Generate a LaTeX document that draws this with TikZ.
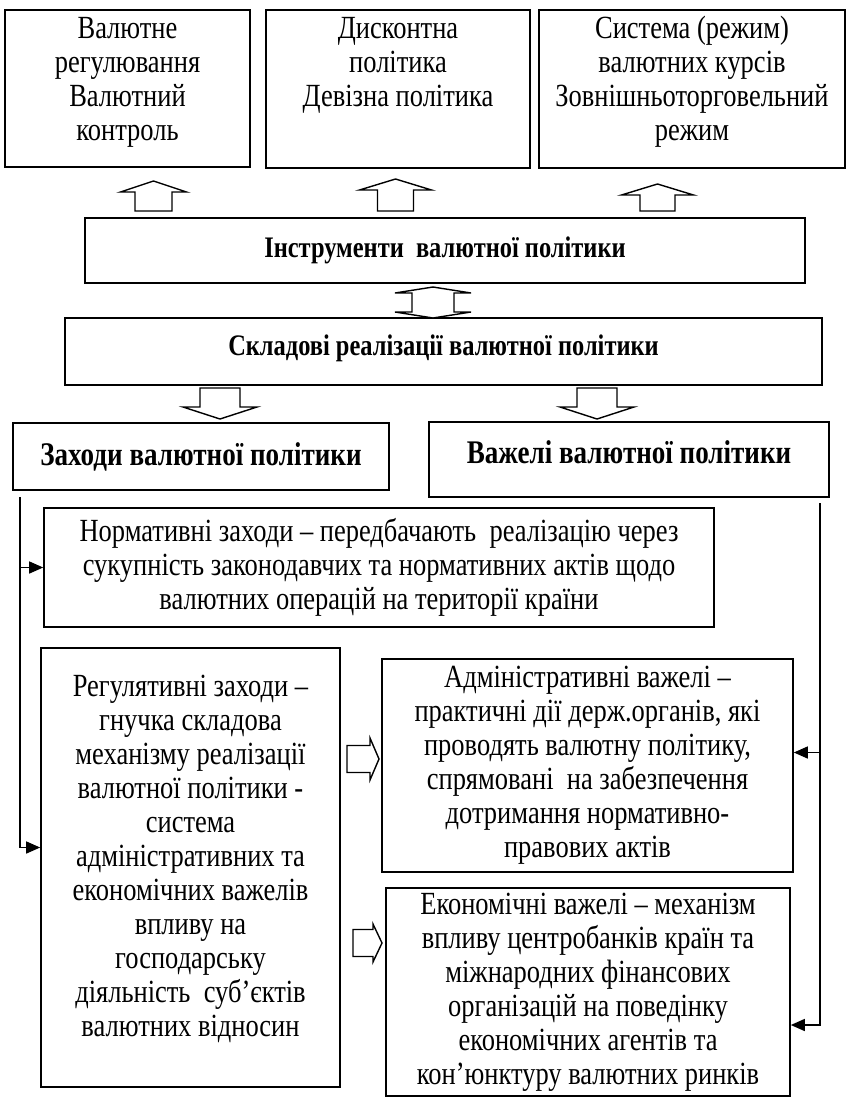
\documentclass[tikz,border=0pt]{standalone}
\usepackage{fontspec}
\setmainfont{Liberation Serif}[FakeStretch=0.82]
\usetikzlibrary{arrows.meta}

% text cell of fixed size: width, height, vertical position (t/c/b), text
\newcommand\cellbox[4]{\parbox[c][#2][#3]{#1}{\centering #4}}
% block arrow along y: centre x, tip y, head base y, tail y, half head width, half shaft width
\newcommand\blkv[6]{%
  \draw[blk] (#1,#2) -- ({#1+#5},#3) -- ({#1+#6},#3) -- ({#1+#6},#4)
    -- ({#1-#6},#4) -- ({#1-#6},#3) -- ({#1-#5},#3) -- cycle;}
% block arrow pointing right: centre y, tip x, head base x, tail x, half head, half shaft
\newcommand\blkh[6]{%
  \draw[blk] (#2,#1) -- (#3,{#1-#5}) -- (#3,{#1-#6}) -- (#4,{#1-#6})
    -- (#4,{#1+#6}) -- (#3,{#1+#6}) -- (#3,{#1+#5}) -- cycle;}

\begin{document}
\begin{tikzpicture}[x=1pt,y=-1pt,
  box/.style={draw, line width=1.6pt, inner sep=0pt, font=\fontsize{32.3}{34}\selectfont},
  headbox/.style={box, font=\bfseries\fontsize{29.8}{34}\selectfont},
  bighead/.style={box, font=\bfseries\fontsize{33}{36}\selectfont},
  conn/.style={line width=1.4pt},
  tip/.style={conn, -{Triangle[length=14pt,width=12pt]}},
  blk/.style={draw, line width=1.4pt, fill=white, line join=miter}]
\useasboundingbox (0,0) rectangle (847,1098);

% instruments (top row)
\node[box] (valreg) at (127.5,88.5)
  {\cellbox{245pt}{157pt}{t}{\vspace*{5pt}\strut Валютне\\регулювання\\Валютний\\контроль}};
\node[box] (disc) at (398,89)
  {\cellbox{264pt}{158pt}{t}{\vspace*{5pt}\strut Дисконтна\\політика\\Девізна політика}};
\node[box] (regime) at (692,89)
  {\cellbox{306pt}{158pt}{t}{\vspace*{5pt}\strut Система (режим)\\валютних курсів\\Зовнішньоторговельний\\режим}};

% headings
\node[headbox] (instr) at (445,250.5)
  {\cellbox{720pt}{65pt}{c}{Інструменти\ \ валютної політики}};
\node[headbox] (comp) at (443.5,351.5)
  {\cellbox{757pt}{67pt}{c}{Складові реалізації валютної політики\par\vspace*{6pt}}};
\node[bighead] (meas) at (201,456.5)
  {\cellbox{376pt}{67pt}{c}{Заходи валютної політики}};
\node[bighead] (lev) at (629,459.5)
  {\cellbox{400pt}{75pt}{c}{Важелі валютної політики\par\vspace*{14pt}}};

% measures and levers
\node[box] (norm) at (379,567.5)
  {\cellbox{670pt}{119pt}{c}{Нормативні заходи – передбачають\ \ реалізацію через\\
   сукупність законодавчих та нормативних актів щодо\\валютних операцій на території країни}};
\node[box] (reg) at (190.5,867.5)
  {\cellbox{299pt}{439pt}{c}{Регулятивні заходи –\\гнучка складова\\механізму реалізації\\
   валютної політики -\\система\\адміністративних та\\економічних важелів\\впливу на\\
   господарську\\діяльність\ \ суб’єктів\\валютних відносин\par\vspace*{18pt}}};
\node[box] (adm) at (587.5,765.5)
  {\cellbox{411pt}{213pt}{c}{Адміністративні важелі –\\практичні дії держ.органів, які\\
   проводять валютну політику,\\спрямовані\ \ на забезпечення\\дотримання нормативно-\\правових актів}};
\node[box] (econ) at (588,992)
  {\cellbox{404pt}{208pt}{c}{Економічні важелі – механізм\\впливу центробанків країн та\\
   міжнародних фінансових\\організацій на поведінку\\економічних агентів та\\кон’юнктуру валютних ринків}};

% block arrows
\blkv{153.5}{181}{192}{211}{33}{18.5}
\blkv{395.5}{179}{190}{211}{36}{18}
\blkv{657.5}{184}{195}{211}{36}{17.5}
\draw[blk] (433,287) -- (471,293) -- (454,293) -- (454,312) -- (471,312) -- (433,318)
  -- (395,312) -- (412,312) -- (412,293) -- (395,293) -- cycle;
\blkv{220}{419}{407}{388}{37}{20}
\blkv{597}{419}{407}{388}{37}{20}
\blkh{759}{379}{370}{347}{21}{13.5}
\blkh{943}{382}{373}{353}{19}{13.5}

% side connectors
\coordinate (lstart) at (20,497);
\coordinate (rstart) at (820,503);
\draw[conn] (lstart) -- (20,847.5);
\draw[tip] (lstart) |- (norm.west);
\draw[tip] (lstart) |- ([yshift=20pt]reg.west);
\draw[tip] (rstart) |- ([yshift=13pt]adm.east);
\draw[tip] (rstart) |- ([yshift=-33pt]econ.east);
\end{tikzpicture}
\end{document}
